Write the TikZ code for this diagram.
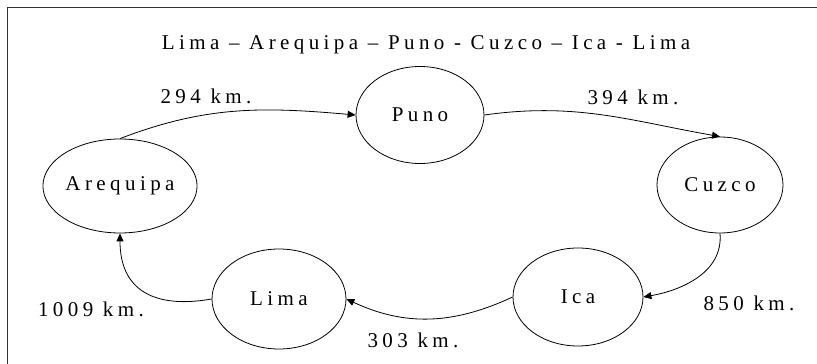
\documentclass[tikz,border=0pt]{standalone}
\usepackage{fontspec}
\setmainfont{Liberation Serif}[LetterSpace=21]
\usetikzlibrary{shapes.geometric,arrows.meta}

\begin{document}
\begin{tikzpicture}[x=1pt,y=1pt,
    city/.style={draw, ellipse, line width=0.8pt, inner sep=0pt,
                 font=\fontsize{21}{24}\selectfont},
    dist/.style={font=\fontsize{21}{24}\selectfont, inner sep=0pt},
    route/.style={line width=0.8pt, -{Triangle[length=8pt,width=7pt]}},
    frameline/.style={line width=1.4pt, black!80}]
  \useasboundingbox (0,0) rectangle (817,364);

  % frame (only the top and left edges fall inside the page)
  \coordinate (fbl) at (7.5,0);
  \coordinate (ftl) at (7.5,356.5);
  \coordinate (ftr) at (817,356.5);
  \draw[frameline] (fbl) -- (ftl) -- (ftr);

  % title
  \node[dist] (title) at (426,319) {Lima – Arequipa – Puno - Cuzco – Ica - Lima};

  % cities
  \node[city, minimum width=128pt, minimum height=97pt] (puno) at (420,249) {Puno};
  \node[city, minimum width=126pt, minimum height=94pt] (arequipa) at (120,178) {Arequipa};
  \node[city, minimum width=126pt, minimum height=96pt] (cuzco) at (720,179) {Cuzco};
  \node[city, minimum width=134pt, minimum height=100pt] (lima) at (279,65) {Lima};
  \node[city, minimum width=130pt, minimum height=98pt] (ica) at (578,67) {Ica};

  % route
  \draw[route] (lima.west) to[out=190,in=-90,looseness=1.3] (arequipa.south);
  \draw[route] (arequipa.north) to[out=21,in=175] (puno.west);
  \draw[route] (puno.east) to[out=8,in=170] (cuzco.north);
  \draw[route] (cuzco.south) to[out=-85,in=10] (ica.east);
  \draw[route] (ica.west) to[out=205,in=-25] (lima.east);

  % distances
  \node[dist] (d1) at (206,268) {294 km.};
  \node[dist] (d2) at (633,267) {394 km.};
  \node[dist] (d3) at (749,61) {850 km.};
  \node[dist] (d4) at (413,24) {303 km.};
  \node[dist] (d5) at (91,55) {1009 km.};
\end{tikzpicture}
\end{document}
